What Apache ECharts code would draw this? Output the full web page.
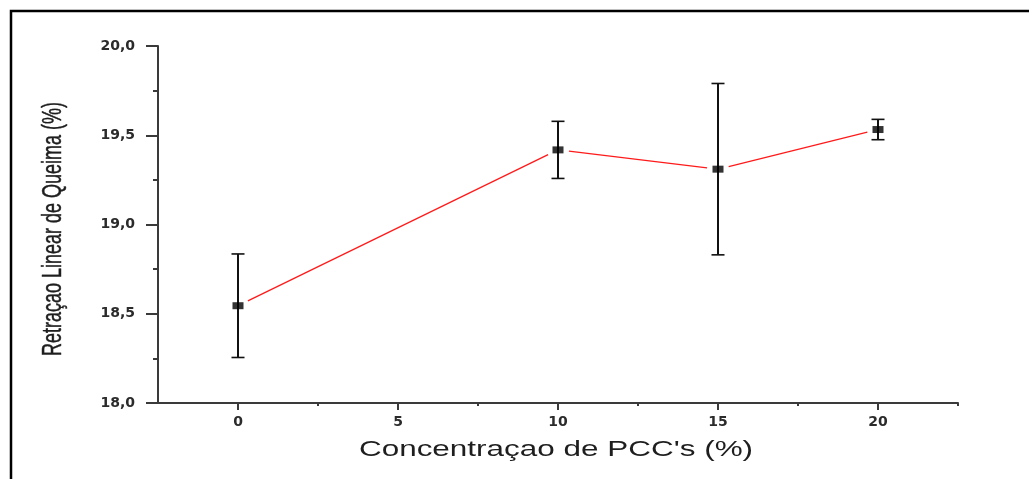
<!DOCTYPE html>
<html>
<head>
<meta charset="utf-8">
<script src="https://cdn.jsdelivr.net/npm/echarts@6/dist/echarts.min.js"></script>
<style>
html,body{margin:0;padding:0;background:#fff;}
#chart{width:1029px;height:479px;}
</style>
</head>
<body>
<div id="chart"></div>
<script>
// Data
var concentration = [0, 10, 15, 20];
var retraction = [18.545, 19.418, 19.310, 19.532];
var errors = [0.29, 0.16, 0.48, 0.057];
var xMajorTicks = [0, 5, 10, 15, 20];
var xMinorTicks = [2.5, 7.5, 12.5, 17.5, 22.5];
var xTitle = "Concentraçao de PCC's (%)";
var yTitle = "Retraçao Linear de Queima (%)";

var points = concentration.map(function (x, i) { return [x, retraction[i]]; });
var errData = concentration.map(function (x, i) { return [x, retraction[i] - errors[i], retraction[i] + errors[i]]; });
var segData = [];
for (var i = 0; i < concentration.length - 1; i++) {
  segData.push([concentration[i], retraction[i], concentration[i + 1], retraction[i + 1]]);
}

var axisColor = '#3a3a3a';
var textColor = '#1e1e1e';

var chart = echarts.init(document.getElementById('chart'));
chart.setOption({
  backgroundColor: '#ffffff',
  animation: false,
  grid: { left: 158, right: 71, top: 46, bottom: 76, containLabel: false },
  xAxis: [{
    type: 'value', min: -2.5, max: 22.5, interval: 2.5,
    splitLine: { show: false },
    axisLine: { show: true, onZero: false, lineStyle: { color: axisColor, width: 2 } },
    axisTick: { show: true, customValues: xMajorTicks, length: 7, lineStyle: { color: axisColor, width: 2 } },
    axisLabel: { customValues: xMajorTicks, margin: 12, fontSize: 14, fontWeight: 'bold', fontFamily: 'DejaVu Sans', color: '#2b2b2b' }
  }, {
    type: 'value', min: -2.5, max: 22.5, interval: 2.5, position: 'bottom', offset: 0,
    splitLine: { show: false },
    axisLine: { show: false },
    axisTick: { show: true, customValues: xMinorTicks, length: 3, lineStyle: { color: axisColor, width: 2 } },
    axisLabel: { show: false }
  }],
  yAxis: {
    type: 'value', min: 18, max: 20, interval: 0.5,
    splitLine: { show: false },
    axisLine: { show: true, onZero: false, lineStyle: { color: axisColor, width: 2 } },
    axisTick: { show: true, length: 12, lineStyle: { color: axisColor, width: 2 } },
    minorTick: { show: true, splitNumber: 2, length: 5, lineStyle: { color: axisColor, width: 2 } },
    axisLabel: {
      margin: 23, fontSize: 14, fontWeight: 'bold', fontFamily: 'DejaVu Sans', color: '#2b2b2b',
      formatter: function (v) { return v.toFixed(1).replace('.', ','); }
    }
  },
  graphic: [
    { type: 'polyline', silent: true, shape: { points: [[11, 479], [11, 11], [1029, 11]] },
      style: { stroke: '#000', lineWidth: 2.5, fill: null } },
    { type: 'text', x: 556, y: 450, scaleX: 1.43, silent: true,
      style: { text: xTitle, fontSize: 22, fontFamily: 'Liberation Sans, Arial', fill: textColor, align: 'center', verticalAlign: 'middle' } },
    { type: 'text', x: 54, y: 229, rotation: Math.PI / 2, scaleY: 1.5, silent: true,
      style: { text: yTitle, fontSize: 18, fontFamily: 'Liberation Sans, Arial', fill: textColor, stroke: textColor, lineWidth: 0.3, align: 'center', verticalAlign: 'middle' } }
  ],
  series: [{
    type: 'custom', name: 'line', xAxisIndex: 0, yAxisIndex: 0, z: 2,
    encode: { x: [0, 2], y: [1, 3] },
    data: segData,
    renderItem: function (params, api) {
      var p0 = api.coord([api.value(0), api.value(1)]);
      var p1 = api.coord([api.value(2), api.value(3)]);
      var dx = p1[0] - p0[0], dy = p1[1] - p0[1];
      var len = Math.sqrt(dx * dx + dy * dy);
      var g = 11;
      var ux = dx / len, uy = dy / len;
      return {
        type: 'line',
        shape: { x1: p0[0] + ux * g, y1: p0[1] + uy * g, x2: p1[0] - ux * g, y2: p1[1] - uy * g },
        style: { stroke: '#ff1a1a', lineWidth: 1.3 }
      };
    }
  }, {
    type: 'custom', name: 'error', xAxisIndex: 0, yAxisIndex: 0, z: 3,
    encode: { x: 0, y: [1, 2] },
    data: errData,
    renderItem: function (params, api) {
      var lo = api.coord([api.value(0), api.value(1)]);
      var hi = api.coord([api.value(0), api.value(2)]);
      var hw = 6.5;
      return {
        type: 'group',
        children: [
          { type: 'line', shape: { x1: lo[0], y1: lo[1], x2: hi[0], y2: hi[1] }, style: { stroke: '#111', lineWidth: 2 } },
          { type: 'line', shape: { x1: lo[0] - hw, y1: lo[1], x2: lo[0] + hw, y2: lo[1] }, style: { stroke: '#111', lineWidth: 1.6 } },
          { type: 'line', shape: { x1: hi[0] - hw, y1: hi[1], x2: hi[0] + hw, y2: hi[1] }, style: { stroke: '#111', lineWidth: 1.6 } }
        ]
      };
    }
  }, {
    type: 'scatter', name: 'points', xAxisIndex: 0, yAxisIndex: 0, z: 4,
    symbol: 'rect', symbolSize: [11, 7],
    itemStyle: { color: '#000' },
    data: points
  }]
});
</script>
</body>
</html>
